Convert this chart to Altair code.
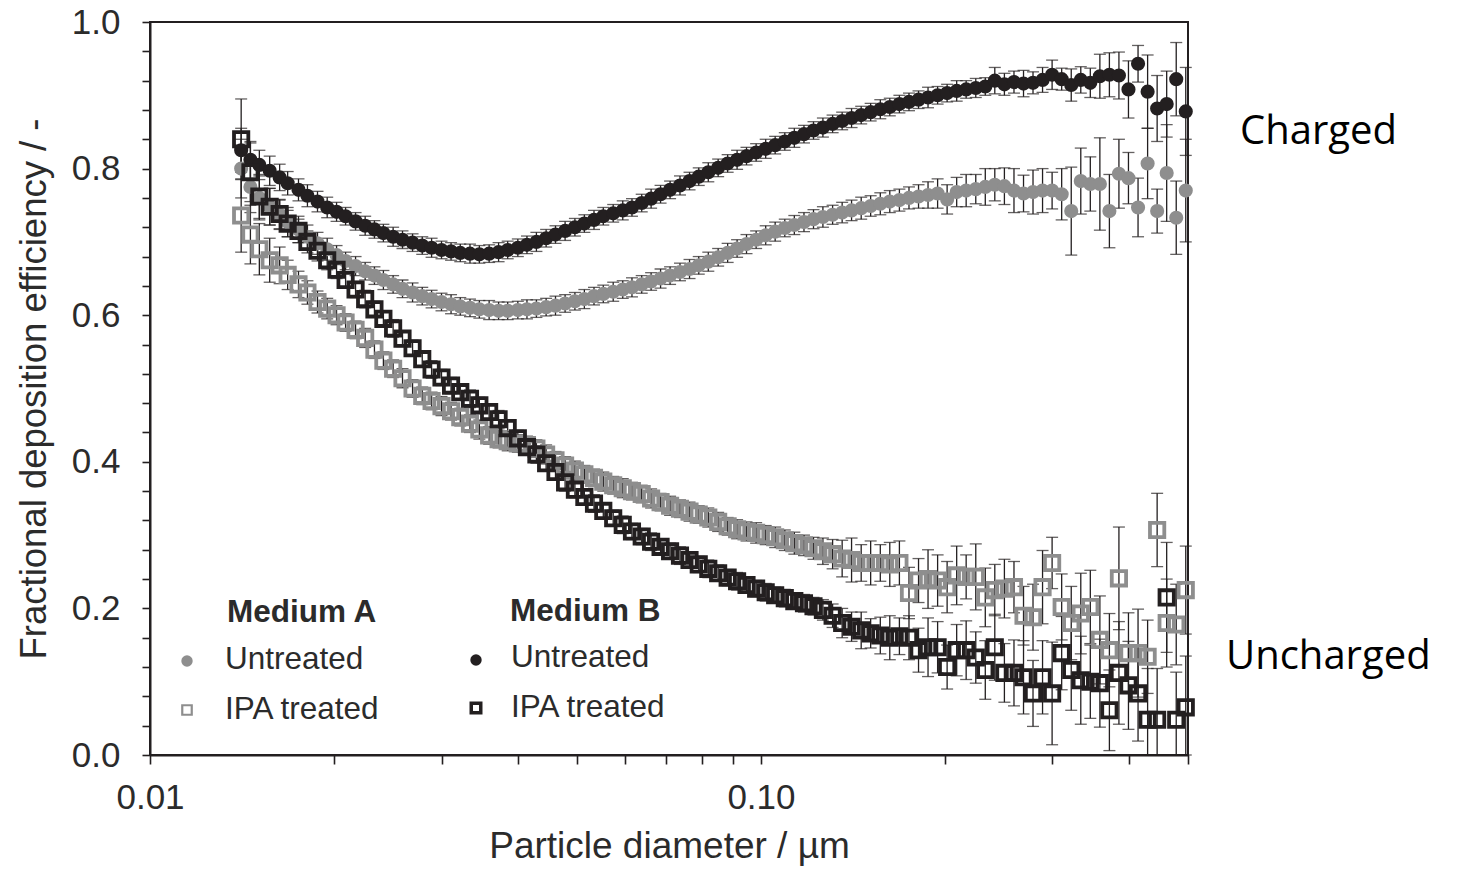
import altair as alt
import pandas as pd

# Particle diameter (µm), SMPS channel midpoints
diameter_um = [
    0.0141, 0.0146, 0.0151, 0.0157, 0.0163, 0.0168, 0.0175, 0.0181, 0.0188, 0.0195,
    0.0202, 0.0209, 0.0217, 0.0225, 0.0233, 0.0241, 0.0250, 0.0259, 0.0269, 0.0279,
    0.0289, 0.0300, 0.0311, 0.0322, 0.0334, 0.0346, 0.0359, 0.0372, 0.0385, 0.0400,
    0.0414, 0.0429, 0.0445, 0.0461, 0.0478, 0.0496, 0.0514, 0.0533, 0.0552, 0.0573,
    0.0594, 0.0615, 0.0638, 0.0661, 0.0685, 0.0710, 0.0737, 0.0764, 0.0791, 0.0820,
    0.0851, 0.0882, 0.0914, 0.0947, 0.0982, 0.1018, 0.1055, 0.1094, 0.1134, 0.1176,
    0.1219, 0.1263, 0.1310, 0.1358, 0.1407, 0.1459, 0.1512, 0.1568, 0.1625, 0.1685,
    0.1747, 0.1811, 0.1877, 0.1946, 0.2017, 0.2091, 0.2167, 0.2247, 0.2329, 0.2414,
    0.2503, 0.2595, 0.2690, 0.2788, 0.2890, 0.2996, 0.3106, 0.3220, 0.3338, 0.3460,
    0.3587, 0.3718, 0.3854, 0.3995, 0.4142, 0.4294, 0.4451, 0.4614, 0.4783, 0.4958,
]

# Medium A, untreated (grey circles)
a_untreated = [
    0.800, 0.775, 0.760, 0.748, 0.737, 0.727, 0.717, 0.707, 0.698, 0.690,
    0.682, 0.674, 0.667, 0.660, 0.654, 0.648, 0.642, 0.636, 0.631, 0.626,
    0.622, 0.618, 0.615, 0.612, 0.610, 0.608, 0.607, 0.606, 0.606, 0.607,
    0.608, 0.609, 0.611, 0.613, 0.616, 0.619, 0.622, 0.626, 0.629, 0.632,
    0.635, 0.638, 0.642, 0.646, 0.650, 0.654, 0.659, 0.663, 0.668, 0.673,
    0.679, 0.685, 0.691, 0.697, 0.703, 0.709, 0.714, 0.719, 0.723, 0.727,
    0.731, 0.734, 0.737, 0.740, 0.743, 0.746, 0.749, 0.752, 0.755, 0.757,
    0.760, 0.762, 0.764, 0.766, 0.758, 0.768, 0.770, 0.772, 0.775, 0.778,
    0.776, 0.770, 0.766, 0.768, 0.770, 0.770, 0.765, 0.742, 0.783, 0.779,
    0.779, 0.742, 0.793, 0.787, 0.747, 0.807, 0.742, 0.794, 0.733, 0.770,
]
a_untreated_err = [
    0.040, 0.035, 0.030, 0.025, 0.020, 0.020, 0.018, 0.016, 0.015, 0.015,
    0.013, 0.012, 0.013, 0.012, 0.012, 0.013, 0.012, 0.012, 0.013, 0.012,
    0.012, 0.012, 0.013, 0.012, 0.012, 0.012, 0.013, 0.012, 0.012, 0.012,
    0.013, 0.012, 0.012, 0.013, 0.012, 0.012, 0.013, 0.012, 0.012, 0.013,
    0.012, 0.013, 0.012, 0.012, 0.013, 0.012, 0.012, 0.013, 0.012, 0.013,
    0.012, 0.013, 0.012, 0.013, 0.012, 0.013, 0.013, 0.012, 0.013, 0.013,
    0.013, 0.014, 0.013, 0.014, 0.014, 0.015, 0.014, 0.015, 0.015, 0.015,
    0.015, 0.016, 0.018, 0.020, 0.020, 0.020, 0.022, 0.020, 0.025, 0.022,
    0.025, 0.030, 0.025, 0.030, 0.030, 0.025, 0.035, 0.060, 0.045, 0.037,
    0.063, 0.050, 0.047, 0.035, 0.040, 0.048, 0.030, 0.066, 0.050, 0.070,
]

# Medium A, IPA treated (grey open squares)
a_ipa = [
    0.736, 0.710, 0.690, 0.675, 0.668, 0.655, 0.642, 0.631, 0.618, 0.609,
    0.600, 0.590, 0.580, 0.569, 0.553, 0.538, 0.527, 0.514, 0.500, 0.490,
    0.483, 0.476, 0.469, 0.461, 0.452, 0.444, 0.436, 0.431, 0.428, 0.425,
    0.423, 0.418, 0.410, 0.402, 0.395, 0.388, 0.383, 0.378, 0.373, 0.368,
    0.364, 0.360, 0.356, 0.350, 0.345, 0.340, 0.336, 0.332, 0.328, 0.324,
    0.318, 0.312, 0.308, 0.305, 0.303, 0.300, 0.297, 0.293, 0.289, 0.286,
    0.282, 0.278, 0.274, 0.268, 0.266, 0.262, 0.262, 0.262, 0.260, 0.262,
    0.221, 0.238, 0.240, 0.238, 0.229, 0.245, 0.243, 0.243, 0.215, 0.225,
    0.227, 0.229, 0.190, 0.188, 0.229, 0.262, 0.202, 0.180, 0.193, 0.202,
    0.157, 0.143, 0.241, 0.139, 0.139, 0.134, 0.307, 0.180, 0.178, 0.225,
]
a_ipa_err = [
    0.050, 0.040, 0.035, 0.030, 0.025, 0.020, 0.018, 0.016, 0.015, 0.014,
    0.013, 0.012, 0.012, 0.013, 0.012, 0.012, 0.012, 0.013, 0.012, 0.012,
    0.012, 0.013, 0.012, 0.012, 0.012, 0.013, 0.012, 0.012, 0.013, 0.012,
    0.012, 0.012, 0.013, 0.012, 0.012, 0.013, 0.012, 0.012, 0.013, 0.012,
    0.013, 0.012, 0.012, 0.013, 0.012, 0.013, 0.012, 0.013, 0.012, 0.013,
    0.013, 0.012, 0.013, 0.013, 0.014, 0.013, 0.014, 0.014, 0.015, 0.014,
    0.015, 0.018, 0.020, 0.025, 0.030, 0.025, 0.030, 0.025, 0.030, 0.030,
    0.035, 0.030, 0.040, 0.035, 0.035, 0.040, 0.030, 0.045, 0.040, 0.035,
    0.040, 0.035, 0.040, 0.045, 0.050, 0.035, 0.045, 0.050, 0.055, 0.050,
    0.060, 0.050, 0.070, 0.055, 0.060, 0.050, 0.050, 0.060, 0.055, 0.060,
]

# Medium B, untreated (black circles)
b_untreated = [
    0.825, 0.812, 0.805, 0.797, 0.788, 0.780, 0.771, 0.763, 0.755, 0.747,
    0.741, 0.735, 0.728, 0.722, 0.717, 0.712, 0.707, 0.703, 0.699, 0.695,
    0.692, 0.689, 0.687, 0.685, 0.684, 0.683, 0.684, 0.686, 0.689, 0.692,
    0.696, 0.700, 0.705, 0.710, 0.715, 0.720, 0.725, 0.730, 0.735, 0.739,
    0.743, 0.747, 0.753, 0.759, 0.765, 0.771, 0.777, 0.783, 0.789, 0.795,
    0.801, 0.807, 0.812, 0.817, 0.822, 0.827, 0.832, 0.837, 0.842, 0.847,
    0.852, 0.856, 0.861, 0.865, 0.869, 0.873, 0.877, 0.881, 0.884, 0.888,
    0.891, 0.894, 0.897, 0.900, 0.903, 0.906, 0.908, 0.910, 0.912, 0.920,
    0.915, 0.918, 0.916, 0.917, 0.921, 0.928, 0.922, 0.914, 0.921, 0.917,
    0.926, 0.928, 0.927, 0.908, 0.943, 0.905, 0.882, 0.888, 0.922, 0.878,
]
b_untreated_err = [
    0.030, 0.025, 0.020, 0.020, 0.018, 0.016, 0.015, 0.015, 0.014, 0.014,
    0.013, 0.012, 0.012, 0.013, 0.012, 0.012, 0.013, 0.012, 0.012, 0.012,
    0.013, 0.012, 0.012, 0.012, 0.013, 0.012, 0.012, 0.013, 0.012, 0.012,
    0.012, 0.013, 0.012, 0.012, 0.013, 0.012, 0.012, 0.013, 0.012, 0.012,
    0.013, 0.012, 0.012, 0.013, 0.012, 0.012, 0.013, 0.012, 0.012, 0.013,
    0.012, 0.012, 0.013, 0.012, 0.012, 0.013, 0.012, 0.012, 0.013, 0.012,
    0.012, 0.013, 0.012, 0.012, 0.013, 0.012, 0.012, 0.013, 0.012, 0.012,
    0.012, 0.012, 0.014, 0.012, 0.012, 0.014, 0.012, 0.013, 0.012, 0.018,
    0.015, 0.015, 0.018, 0.015, 0.017, 0.020, 0.015, 0.022, 0.018, 0.020,
    0.030, 0.030, 0.032, 0.039, 0.025, 0.050, 0.045, 0.045, 0.050, 0.060,
]

# Medium B, IPA treated (black open squares)
b_ipa = [
    0.840, 0.795, 0.762, 0.748, 0.738, 0.725, 0.715, 0.700, 0.688, 0.675,
    0.662, 0.648, 0.635, 0.622, 0.608, 0.595, 0.582, 0.568, 0.555, 0.540,
    0.526, 0.515, 0.504, 0.495, 0.486, 0.477, 0.468, 0.458, 0.446, 0.432,
    0.420, 0.410, 0.398, 0.386, 0.372, 0.362, 0.352, 0.343, 0.333, 0.323,
    0.314, 0.305, 0.298, 0.291, 0.284, 0.278, 0.272, 0.266, 0.260, 0.254,
    0.248, 0.242, 0.237, 0.232, 0.227, 0.222, 0.218, 0.214, 0.210, 0.207,
    0.203, 0.198, 0.190, 0.180, 0.175, 0.170, 0.166, 0.163, 0.160, 0.162,
    0.160, 0.143, 0.147, 0.147, 0.120, 0.143, 0.143, 0.133, 0.116, 0.147,
    0.112, 0.112, 0.106, 0.084, 0.106, 0.084, 0.139, 0.116, 0.102, 0.100,
    0.098, 0.061, 0.112, 0.095, 0.084, 0.048, 0.048, 0.215, 0.048, 0.065,
]
b_ipa_err = [
    0.055, 0.040, 0.030, 0.025, 0.020, 0.018, 0.016, 0.015, 0.014, 0.013,
    0.012, 0.011, 0.011, 0.012, 0.011, 0.011, 0.012, 0.011, 0.011, 0.011,
    0.012, 0.011, 0.011, 0.011, 0.012, 0.011, 0.011, 0.012, 0.011, 0.011,
    0.011, 0.012, 0.011, 0.011, 0.012, 0.011, 0.011, 0.012, 0.011, 0.011,
    0.012, 0.011, 0.011, 0.012, 0.011, 0.011, 0.012, 0.011, 0.011, 0.012,
    0.011, 0.011, 0.012, 0.011, 0.011, 0.012, 0.011, 0.012, 0.011, 0.012,
    0.012, 0.014, 0.016, 0.020, 0.020, 0.025, 0.020, 0.025, 0.030, 0.025,
    0.030, 0.030, 0.040, 0.035, 0.030, 0.035, 0.040, 0.035, 0.040, 0.045,
    0.040, 0.045, 0.050, 0.045, 0.050, 0.070, 0.050, 0.055, 0.060, 0.050,
    0.060, 0.055, 0.070, 0.060, 0.065, 0.070, 0.070, 0.075, 0.065, 0.070,
]

x_ticks = [0.01, 0.02, 0.03, 0.04, 0.05, 0.06, 0.07, 0.08, 0.09, 0.1, 0.2, 0.3, 0.4, 0.5]
y_ticks = [0.0, 0.04, 0.08, 0.12, 0.16, 0.2, 0.24, 0.28, 0.32, 0.36, 0.4, 0.44, 0.48,
           0.52, 0.56, 0.6, 0.64, 0.68, 0.72, 0.76, 0.8, 0.84, 0.88, 0.92, 0.96, 1.0]

GREY = "#8e8e8e"
BLACK = "#231f20"
TXT = "#2b2b2b"
FONT = "Liberation Sans"

series = [
    ("A untreated", a_untreated, a_untreated_err),
    ("A IPA", a_ipa, a_ipa_err),
    ("B untreated", b_untreated, b_untreated_err),
    ("B IPA", b_ipa, b_ipa_err),
]
rows = []
for name, ys, es in series:
    for x, y, e in zip(diameter_um, ys, es):
        rows.append({"series": name, "x": x, "y": y, "lo": max(0.0, y - e), "hi": y + e})
df = pd.DataFrame(rows)

xscale = alt.Scale(type="log", domain=[0.01, 0.5], nice=False)
yscale = alt.Scale(domain=[0, 1], nice=False, clamp=True)

axis_common = dict(
    domainColor=BLACK, domainWidth=2, tickColor=BLACK, tickWidth=1.6,
    labelFont=FONT, labelFontSize=35, labelColor=TXT,
    titleFont=FONT, titleFontWeight="normal", titleColor=TXT,
    grid=False, labelFlush=False, labelOverlap=False, labelBound=False,
)
xaxis = alt.Axis(
    values=x_ticks, title="Particle diameter / µm",
    labelExpr="abs(datum.value-0.01)<1e-9 ? '0.01' : (abs(datum.value-0.1)<1e-9 ? '0.10' : '')",
    tickSize=9, labelPadding=16, titlePadding=13, titleFontSize=37, **axis_common)
yaxis = alt.Axis(
    values=y_ticks, title="Fractional deposition efficiency / -",
    labelExpr="(round(datum.value*100) % 20 == 0) ? format(datum.value, '.1f') : ''",
    tickSize=8, labelPadding=22, titlePadding=18, titleFontSize=36.5, **axis_common)

X = alt.X("x:Q", scale=xscale, axis=xaxis)
Y = alt.Y("y:Q", scale=yscale, axis=yaxis)
YLO = alt.Y("lo:Q", scale=yscale, axis=yaxis)
YHI = alt.Y("hi:Q", scale=yscale, axis=yaxis)

base = alt.Chart(df)

err_rule = base.mark_rule(color=BLACK, strokeWidth=1.3).encode(x=X, y=YLO, y2="hi:Q")
cap_lo = base.mark_tick(color=BLACK, thickness=1.3, size=12, orient="horizontal").encode(x=X, y=YLO)
cap_hi = base.mark_tick(color=BLACK, thickness=1.3, size=12, orient="horizontal").encode(x=X, y=YHI)


def pts(name, shape, color, filled, size, sw=0):
    kw = dict(shape=shape, filled=filled, size=size, color=color, opacity=1,
              strokeWidth=(0 if filled else sw))
    return base.transform_filter(alt.datum.series == name).mark_point(**kw).encode(x=X, y=Y)


a_c = pts("A untreated", "circle", GREY, True, 200)
b_c = pts("B untreated", "circle", BLACK, True, 200)
a_s = pts("A IPA", "square", GREY, False, 205, 3.8)
b_s = pts("B IPA", "square", BLACK, False, 205, 3.8)


def label(text, x, y, size=31.5, weight="normal", font=FONT, color=TXT):
    return alt.Chart(pd.DataFrame({"t": [text]})).mark_text(
        text=text, align="left", baseline="middle", fontSize=size, fontWeight=weight,
        font=font, color=color).encode(x=alt.value(x), y=alt.value(y))


def marker(shape, color, filled, size, x, y, sw=0):
    kw = dict(shape=shape, filled=filled, size=size, color=color, opacity=1,
              strokeWidth=(0 if filled else sw))
    return alt.Chart(pd.DataFrame({"m": [shape]})).mark_point(**kw).encode(
        x=alt.value(x), y=alt.value(y))


legend = [
    label("Medium A", 77, 591, weight="bold"),
    marker("circle", GREY, True, 130, 37, 639),
    label("Untreated", 75, 638),
    marker("square", GREY, False, 90, 37, 688, 2.2),
    label("IPA treated", 75, 688),
    label("Medium B", 360, 590, weight="bold"),
    marker("circle", BLACK, True, 130, 326, 638),
    label("Untreated", 361, 636),
    marker("square", BLACK, False, 90, 326, 686, 3.5),
    label("IPA treated", 361, 686),
    label("Charged", 1090, 110, size=40, font="Open Sans", color="#000000"),
    label("Uncharged", 1076, 635, size=40, font="Open Sans", color="#000000"),
]

chart = alt.layer(err_rule, cap_lo, cap_hi, a_c, b_c, a_s, b_s, *legend).properties(
    width=1038, height=733,
    background="white",
    autosize=alt.AutoSizeParams(type="none"),
    padding={"left": 142, "top": 14, "right": 262, "bottom": 111},
).configure_view(
    stroke=BLACK, strokeWidth=2
)

chart.save("out.html", embed_options={"renderer": "svg", "actions": False})
